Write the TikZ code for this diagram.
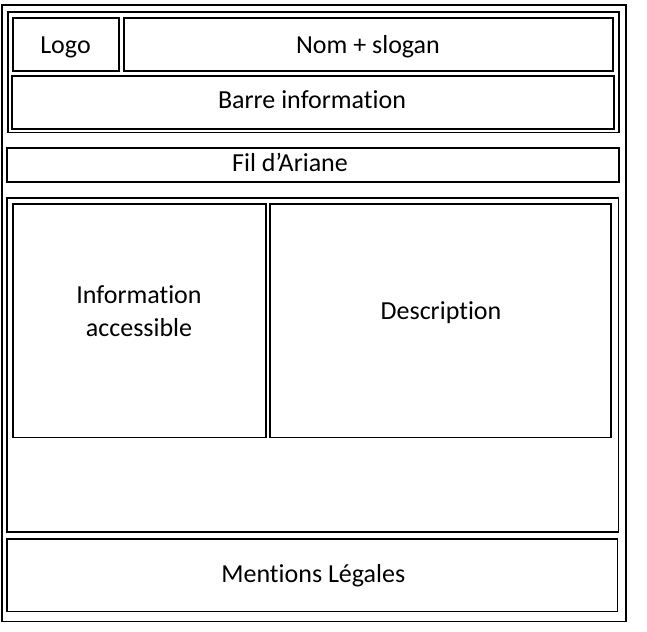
\documentclass[tikz,border=0pt]{standalone}
\usepackage{fontspec}
\setmainfont{Carlito}[Ligatures={NoCommon}]
\usetikzlibrary{positioning}

\begin{document}
\begin{tikzpicture}[x=1pt, y=-1pt,
    zone/.style={draw, rectangle, line width=1.5pt, inner sep=0pt},
    texte/.style={font=\fontsize{26}{33.5}\selectfont, align=center, inner sep=0pt, anchor=base}]
  \useasboundingbox (0,0) rectangle (647,631);
  % page et en-tete
  \node [zone, minimum width=624pt, minimum height=616.5pt] (page) at (314,313.25) {};
  \node [zone, minimum width=611pt, minimum height=120.5pt] (entete) at (313.5,72.25) {};
  \node [zone, minimum width=106pt, minimum height=53pt] (logo) at (66,44.5) {};
  \node [zone, minimum width=489pt, minimum height=53pt] (nom) at (368.5,44.5) {};
  \node [zone, minimum width=602pt, minimum height=53pt] (barre) at (313,102.5) {};
  \node [texte] (tlogo) at (65.5,53.3) {Logo};
  \node [texte] (tnom) at (368,53.3) {Nom + slogan};
  \node [texte] (tbarre) at (312,108.3) {Barre information};
  % fil d'ariane
  \node [zone, minimum width=612pt, minimum height=34pt] (fil) at (313,165) {};
  \node [texte] (tfil) at (290,171.7) {Fil d’Ariane};
  % contenu
  \node [zone, minimum width=611.5pt, minimum height=334pt] (contenu) at (312.75,365) {};
  \node [zone, minimum width=253pt, minimum height=233.5pt] (info) at (139.5,320.75) {};
  \node [zone, minimum width=341pt, minimum height=233.5pt] (desc) at (440.5,320.75) {};
  \node [texte] (tinfo) at (139,336.7) {Information\\accessible};
  \node [texte] (tdesc) at (441,319.3) {Description};
  % pied de page
  \node [zone, minimum width=610.5pt, minimum height=72.5pt] (mentions) at (312.25,575.25) {};
  \node [texte] (tmentions) at (313.3,582.3) {Mentions Légales};
\end{tikzpicture}
\end{document}
